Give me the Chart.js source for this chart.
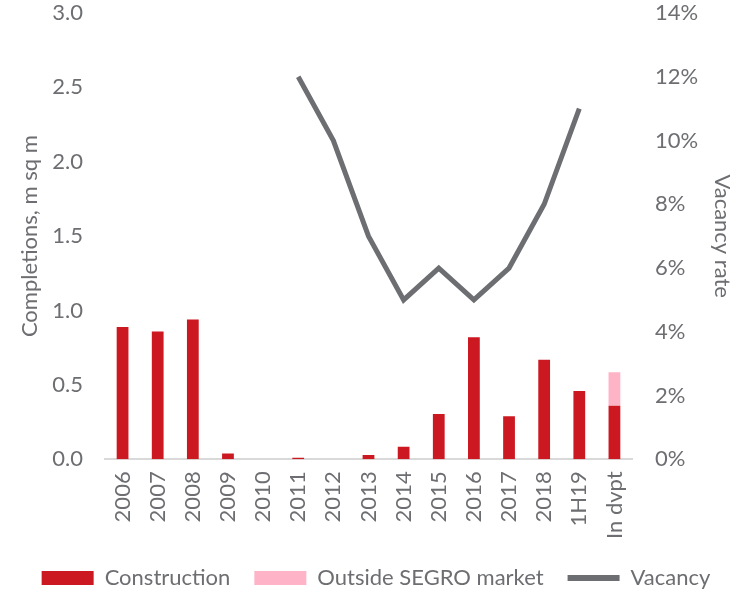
<!DOCTYPE html>
<html lang="en">
<head>
  <meta charset="UTF-8">
  <title>Completions and vacancy</title>
  <script src="https://cdn.jsdelivr.net/npm/chart.js"></script>
  <style>
    body { margin: 0; padding: 0; background: #fff; }
    #wrap { width: 745px; height: 596px; position: relative; }
  </style>
</head>
<body>
  <div id="wrap"><canvas id="chart"></canvas></div>
  <script>
    // Data
    const labels = ['2006', '2007', '2008', '2009', '2010', '2011', '2012', '2013',
      '2014', '2015', '2016', '2017', '2018', '1H19', 'In dvpt'];
    const construction = [0.89, 0.86, 0.94, 0.04, 0, 0.01, 0, 0.03, 0.085, 0.305, 0.82, 0.29, 0.67, 0.46, 0.36];
    const outsideSegro = [0, 0, 0, 0, 0, 0, 0, 0, 0, 0, 0, 0, 0, 0, 0.225];
    const vacancy = [null, null, null, null, null, 12, 10, 7, 5, 6, 5, 6, 8, 11, null];

    const grey = '#6d6e71';
    const font = { family: 'Lato, "Open Sans", sans-serif', size: 22 };

    new Chart(document.getElementById('chart'), {
      data: {
        labels: labels,
        datasets: [
          {
            type: 'bar',
            label: 'Construction',
            data: construction,
            backgroundColor: '#cc1820',
            borderWidth: 0,
            stack: 's',
            yAxisID: 'y',
            order: 2
          },
          {
            type: 'bar',
            label: 'Outside SEGRO market',
            data: outsideSegro,
            backgroundColor: '#ffb3c7',
            borderWidth: 0,
            stack: 's',
            yAxisID: 'y',
            order: 2
          },
          {
            type: 'line',
            label: 'Vacancy',
            data: vacancy,
            borderColor: grey,
            borderWidth: 5,
            pointRadius: 0,
            tension: 0,
            yAxisID: 'y1',
            order: 1
          }
        ]
      },
      options: {
        responsive: true,
        maintainAspectRatio: false,
        animation: false,
        datasets: { bar: { barPercentage: 0.67, categoryPercentage: 0.5 } },
        layout: { padding: { left: 13, right: 6, top: 5, bottom: -3 } },
        plugins: {
          tooltip: { enabled: false },
          legend: {
            position: 'bottom',
            labels: {
              color: grey,
              font: font,
              usePointStyle: true,
              pointStyleWidth: 52,
              boxHeight: 14,
              padding: 24,
              sort: function (a, b) { return a.datasetIndex - b.datasetIndex; },
              generateLabels: function (chart) {
                const items = Chart.defaults.plugins.legend.labels.generateLabels(chart);
                return items.map(function (it) {
                  if (it.datasetIndex === 2) {
                    it.pointStyle = 'line';
                    it.lineWidth = 6;
                    it.strokeStyle = grey;
                  } else {
                    it.pointStyle = 'rect';
                    it.lineWidth = 0;
                  }
                  return it;
                });
              }
            }
          }
        },
        scales: {
          x: {
            stacked: true,
            grid: { display: false },
            border: { display: true, color: '#d9d9d9', width: 2 },
            ticks: { color: grey, font: font, minRotation: 90, maxRotation: 90, padding: 4 }
          },
          y: {
            stacked: true,
            position: 'left',
            min: 0,
            max: 3,
            grid: { display: false },
            border: { display: false },
            ticks: {
              stepSize: 0.5,
              color: grey,
              font: font,
              padding: 14,
              callback: function (v) { return v.toFixed(1); }
            },
            title: { display: true, text: 'Completions, m sq m', color: grey, font: font, padding: 4 },
            afterFit: function (scale) { scale.width = 92; scale.paddingTop = 13; scale.paddingBottom = 13; }
          },
          y1: {
            position: 'right',
            min: 0,
            max: 14,
            grid: { display: false },
            border: { display: false },
            ticks: {
              stepSize: 2,
              color: grey,
              font: font,
              padding: 15,
              callback: function (v) { return v + '%'; }
            },
            title: { display: true, text: 'Vacancy rate', color: grey, font: font, padding: 4 },
            afterFit: function (scale) { scale.width = 107; scale.paddingTop = 13; scale.paddingBottom = 13; }
          }
        }
      }
    });
  </script>
</body>
</html>
